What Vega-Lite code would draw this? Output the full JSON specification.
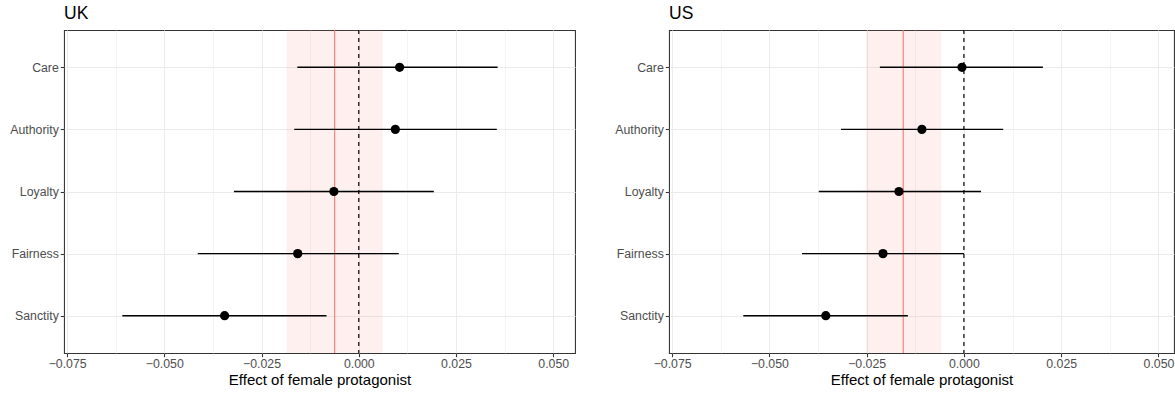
{
  "$schema": "https://vega.github.io/schema/vega-lite/v6.json",
  "padding": {"left": 9, "top": 4, "right": 0, "bottom": 0},
  "background": "white",
  "datasets": {
    "est": [
      {"country": "UK", "foundation": "Care", "estimate": 0.0105, "lower": -0.0158, "upper": 0.0357},
      {"country": "UK", "foundation": "Authority", "estimate": 0.0094, "lower": -0.0166, "upper": 0.0355},
      {"country": "UK", "foundation": "Loyalty", "estimate": -0.0064, "lower": -0.0321, "upper": 0.0193},
      {"country": "UK", "foundation": "Fairness", "estimate": -0.0157, "lower": -0.0414, "upper": 0.0103},
      {"country": "UK", "foundation": "Sanctity", "estimate": -0.0345, "lower": -0.0608, "upper": -0.0083},
      {"country": "US", "foundation": "Care", "estimate": -0.0005, "lower": -0.0216, "upper": 0.0203},
      {"country": "US", "foundation": "Authority", "estimate": -0.0108, "lower": -0.0316, "upper": 0.0101},
      {"country": "US", "foundation": "Loyalty", "estimate": -0.0167, "lower": -0.0373, "upper": 0.0044},
      {"country": "US", "foundation": "Fairness", "estimate": -0.0208, "lower": -0.0416, "upper": 0.0},
      {"country": "US", "foundation": "Sanctity", "estimate": -0.0355, "lower": -0.0567, "upper": -0.0144}
    ],
    "avg": [
      {"country": "UK", "mean": -0.0062, "lower": -0.0186, "upper": 0.0061},
      {"country": "US", "mean": -0.0156, "lower": -0.0252, "upper": -0.0058}
    ]
  },
  "config": {
    "font": "Liberation Sans",
    "view": {"stroke": "#333333", "strokeWidth": 1.07},
    "title": {"font": "Liberation Sans", "fontWeight": "normal", "color": "black", "fontSize": 17.5, "anchor": "start", "frame": "group", "offset": 7}
  },
  "spacing": 94,
  "bounds": "flush",
  "resolve": {"scale": {"x": "independent", "y": "independent"}},
  "hconcat": [
    {
      "width": 511,
      "height": 323,
      "title": {"text": "UK"},
      "layer": [
        {
          "data": {"name": "avg"},
          "transform": [{"filter": "datum.country === 'UK'"}],
          "mark": {"type": "rect", "color": "#F8766D", "opacity": 0.11},
          "encoding": {
            "x": {
              "field": "lower", "type": "quantitative",
              "title": "Effect of female protagonist",
              "scale": {"domain": [-0.0758, 0.0556], "nice": false, "zero": false},
              "axis": {
                "values": [-0.075, -0.0625, -0.05, -0.0375, -0.025, -0.0125, 0, 0.0125, 0.025, 0.0375, 0.05],
                "labelExpr": "abs(datum.value*40 - round(datum.value*40)) > 0.1 ? '' : format(datum.value, '.3f')",
                "grid": true,
                "gridColor": "#EBEBEB",
                "gridWidth": {"condition": {"test": "abs(datum.value*40 - round(datum.value*40)) > 0.1", "value": 0.55}, "value": 1.07},
                "tickOpacity": {"condition": {"test": "abs(datum.value*40 - round(datum.value*40)) > 0.1", "value": 0}, "value": 1},
                "tickColor": "#333333", "tickSize": 3.7, "tickWidth": 1.07,
                "domain": false,
                "labelColor": "#4D4D4D", "labelFontSize": 12.3, "labelPadding": 1, "labelFont": "Liberation Sans",
                "labelFlush": false, "labelOverlap": false,
                "titleFontSize": 15, "titleColor": "black", "titleFontWeight": "normal", "titlePadding": 2, "titleFont": "Liberation Sans"
              }
            },
            "x2": {"field": "upper"}
          }
        },
        {
          "data": {"name": "avg"},
          "transform": [{"filter": "datum.country === 'UK'"}],
          "mark": {"type": "rule", "color": "black", "strokeWidth": 1.2, "strokeDash": [4, 4]},
          "encoding": {"x": {"datum": 0, "type": "quantitative", "title": "Effect of female protagonist"}}
        },
        {
          "data": {"name": "avg"},
          "transform": [{"filter": "datum.country === 'UK'"}],
          "mark": {"type": "rule", "color": "#F8766D", "strokeWidth": 1.07},
          "encoding": {"x": {"field": "mean", "type": "quantitative", "title": "Effect of female protagonist"}}
        },
        {
          "data": {"name": "est"},
          "transform": [{"filter": "datum.country === 'UK'"}],
          "mark": {"type": "rule", "color": "black", "strokeWidth": 1.4},
          "encoding": {
            "y": {
              "field": "foundation", "type": "nominal",
              "sort": ["Care", "Authority", "Loyalty", "Fairness", "Sanctity"],
              "scale": {"type": "point", "padding": 0.6},
              "axis": {"title": null, "domain": false, "tickColor": "#333333", "tickSize": 3.7, "tickWidth": 1.07,
                       "labelColor": "#4D4D4D", "labelFontSize": 12.3, "labelPadding": 2, "labelFont": "Liberation Sans",
                       "grid": true, "gridColor": "#EBEBEB", "gridWidth": 1.07}
            },
            "x": {"field": "lower", "type": "quantitative", "title": "Effect of female protagonist"},
            "x2": {"field": "upper"}
          }
        },
        {
          "data": {"name": "est"},
          "transform": [{"filter": "datum.country === 'UK'"}],
          "mark": {"type": "point", "filled": true, "color": "black", "size": 85, "opacity": 1},
          "encoding": {
            "y": {"field": "foundation", "type": "nominal", "sort": ["Care", "Authority", "Loyalty", "Fairness", "Sanctity"]},
            "x": {"field": "estimate", "type": "quantitative", "title": "Effect of female protagonist"}
          }
        }
      ]
    },
    {
      "width": 505,
      "height": 323,
      "title": {"text": "US"},
      "layer": [
        {
          "data": {"name": "avg"},
          "transform": [{"filter": "datum.country === 'US'"}],
          "mark": {"type": "rect", "color": "#F8766D", "opacity": 0.11},
          "encoding": {
            "x": {
              "field": "lower", "type": "quantitative",
              "title": "Effect of female protagonist",
              "scale": {"domain": [-0.0758, 0.054], "nice": false, "zero": false},
              "axis": {
                "values": [-0.075, -0.0625, -0.05, -0.0375, -0.025, -0.0125, 0, 0.0125, 0.025, 0.0375, 0.05],
                "labelExpr": "abs(datum.value*40 - round(datum.value*40)) > 0.1 ? '' : format(datum.value, '.3f')",
                "grid": true,
                "gridColor": "#EBEBEB",
                "gridWidth": {"condition": {"test": "abs(datum.value*40 - round(datum.value*40)) > 0.1", "value": 0.55}, "value": 1.07},
                "tickOpacity": {"condition": {"test": "abs(datum.value*40 - round(datum.value*40)) > 0.1", "value": 0}, "value": 1},
                "tickColor": "#333333", "tickSize": 3.7, "tickWidth": 1.07,
                "domain": false,
                "labelColor": "#4D4D4D", "labelFontSize": 12.3, "labelPadding": 1, "labelFont": "Liberation Sans",
                "labelFlush": false, "labelOverlap": false,
                "titleFontSize": 15, "titleColor": "black", "titleFontWeight": "normal", "titlePadding": 2, "titleFont": "Liberation Sans"
              }
            },
            "x2": {"field": "upper"}
          }
        },
        {
          "data": {"name": "avg"},
          "transform": [{"filter": "datum.country === 'US'"}],
          "mark": {"type": "rule", "color": "black", "strokeWidth": 1.2, "strokeDash": [4, 4]},
          "encoding": {"x": {"datum": 0, "type": "quantitative", "title": "Effect of female protagonist"}}
        },
        {
          "data": {"name": "avg"},
          "transform": [{"filter": "datum.country === 'US'"}],
          "mark": {"type": "rule", "color": "#F8766D", "strokeWidth": 1.07},
          "encoding": {"x": {"field": "mean", "type": "quantitative", "title": "Effect of female protagonist"}}
        },
        {
          "data": {"name": "est"},
          "transform": [{"filter": "datum.country === 'US'"}],
          "mark": {"type": "rule", "color": "black", "strokeWidth": 1.4},
          "encoding": {
            "y": {
              "field": "foundation", "type": "nominal",
              "sort": ["Care", "Authority", "Loyalty", "Fairness", "Sanctity"],
              "scale": {"type": "point", "padding": 0.6},
              "axis": {"title": null, "domain": false, "tickColor": "#333333", "tickSize": 3.7, "tickWidth": 1.07,
                       "labelColor": "#4D4D4D", "labelFontSize": 12.3, "labelPadding": 2, "labelFont": "Liberation Sans",
                       "grid": true, "gridColor": "#EBEBEB", "gridWidth": 1.07}
            },
            "x": {"field": "lower", "type": "quantitative", "title": "Effect of female protagonist"},
            "x2": {"field": "upper"}
          }
        },
        {
          "data": {"name": "est"},
          "transform": [{"filter": "datum.country === 'US'"}],
          "mark": {"type": "point", "filled": true, "color": "black", "size": 85, "opacity": 1},
          "encoding": {
            "y": {"field": "foundation", "type": "nominal", "sort": ["Care", "Authority", "Loyalty", "Fairness", "Sanctity"]},
            "x": {"field": "estimate", "type": "quantitative", "title": "Effect of female protagonist"}
          }
        }
      ]
    }
  ]
}
